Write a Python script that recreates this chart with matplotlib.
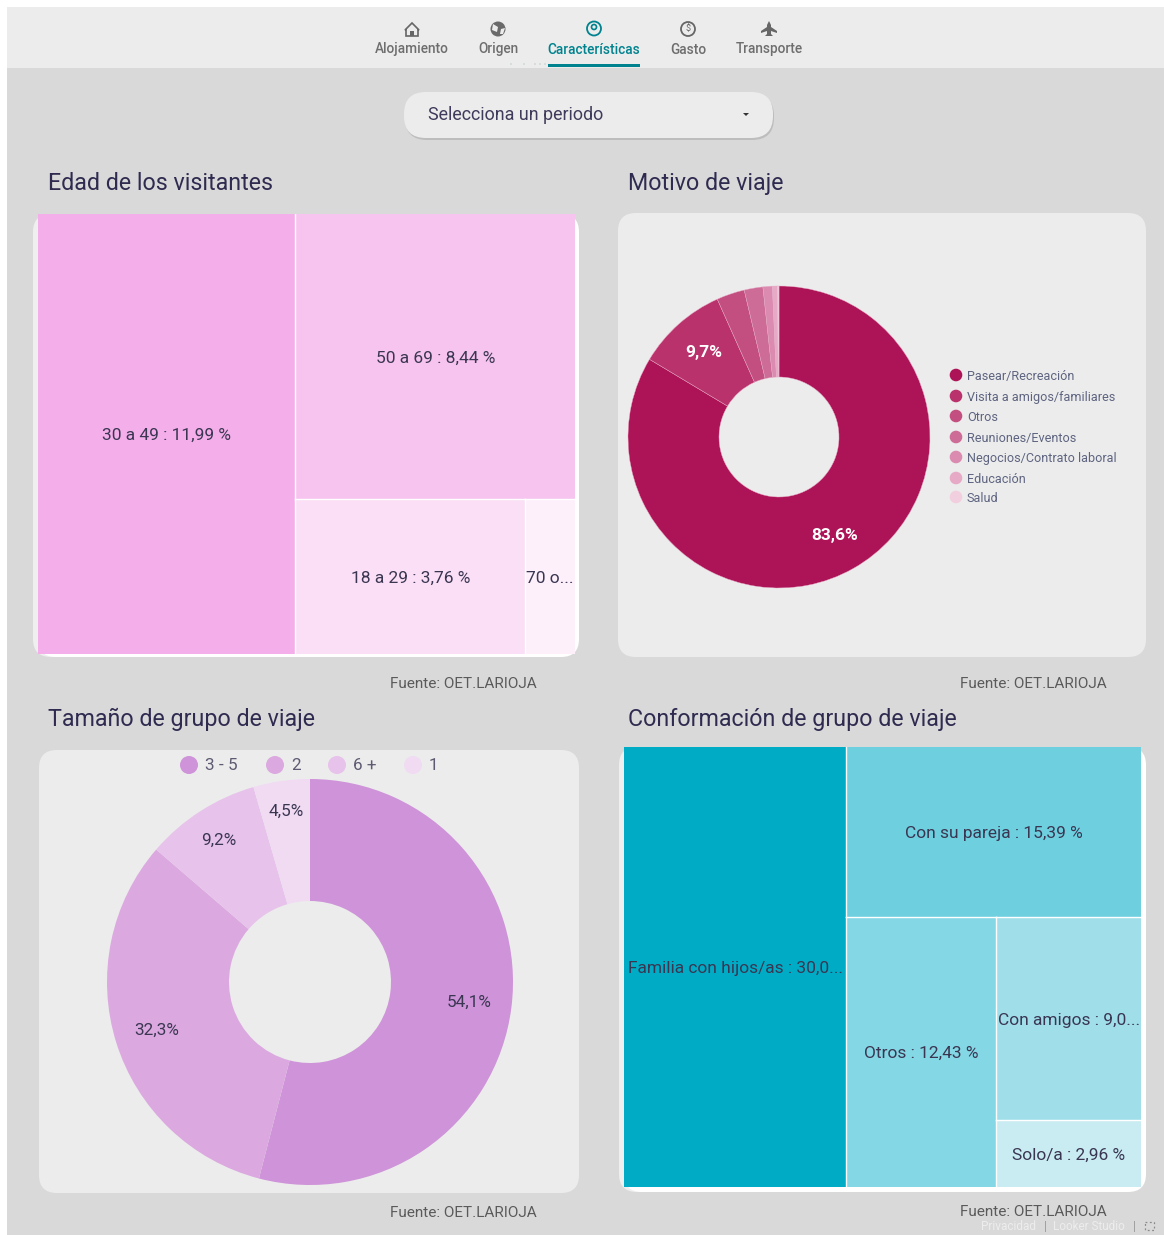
import math

import matplotlib
matplotlib.use("Agg")
import matplotlib.pyplot as plt
from matplotlib.patches import Circle, FancyBboxPatch, Polygon, Rectangle

plt.rcParams['font.family'] = ['Roboto', 'DejaVu Sans']

W, H = 1164, 1235

# data
tabs = ['Alojamiento', 'Origen', 'Características', 'Gasto', 'Transporte']

edad_labels = ['30 a 49 : 11,99 %', '50 a 69 : 8,44 %', '18 a 29 : 3,76 %', '70 o...']
edad_values = [11.99, 8.44, 3.76, 0.82]
edad_colors = ['#F4AEEA', '#F7C3EF', '#FADFF6', '#FDF0FB']

motivo_names = ['Pasear/Recreación', 'Visita a amigos/familiares', 'Otros', 'Reuniones/Eventos',
                'Negocios/Contrato laboral', 'Educación', 'Salud']
motivo_values = [83.6, 9.7, 3.0, 2.0, 1.0, 0.5, 0.2]
motivo_colors = ['#AD1457', '#B9326B', '#C34F80', '#CD6C96', '#DA8BAF', '#E6AAC6', '#F2CFDF']
motivo_text = ['83,6%', '9,7%', '', '', '', '', '']

grupo_names = ['3 - 5', '2', '6 +', '1']
grupo_values = [54.1, 32.3, 9.2, 4.5]
grupo_colors = ['#CE93D8', '#DBA9E0', '#E7C2EB', '#F0DBF3']
grupo_text = ['54,1%', '32,3%', '9,2%', '4,5%']

conf_labels = ['Familia con hijos/as : 30,0...', 'Con su pareja : 15,39 %', 'Otros : 12,43 %',
               'Con amigos : 9,0...', 'Solo/a : 2,96 %']
conf_values = [30.0, 15.39, 12.43, 9.0, 2.96]
conf_colors = ['#00ACC5', '#6ECFDF', '#84D7E4', '#A0DFEA', '#C9ECF2']

TITLE = '#2F2B50'
LABEL = '#3A3652'
GREY = '#6E6E6E'
TEAL = '#00838F'
CARD = '#ECECEC'


def sub_axes(x0, y0, x1, y1):
    # pixel box (y down) to a figure axes
    a = fig.add_axes([x0 / W, 1 - y1 / H, (x1 - x0) / W, (y1 - y0) / H])
    a.axis('off')
    return a


def card(x0, y0, x1, y1, color=CARD, r=18):
    bg.add_patch(FancyBboxPatch((x0 + r, y0 + r), x1 - x0 - 2 * r, y1 - y0 - 2 * r,
                                boxstyle=f'round,pad={r},rounding_size={r}',
                                fc=color, ec='none'))


def treemap(box, values, colors, labels, size=12.5):
    ax = sub_axes(*box)
    ax.set_xlim(0, 1)
    ax.set_ylim(1, 0)
    x, y, w, h = 0.0, 0.0, 1.0, 1.0
    rest = sum(values)
    for i, v in enumerate(values):
        frac = v / rest if i < len(values) - 1 else 1.0
        if i % 2 == 0:
            rw, rh = w * frac, h
        else:
            rw, rh = w, h * frac
        ax.bar(x, rh, rw, bottom=y, align='edge', color=colors[i], edgecolor='none')
        # thin white seam on the inner edges only
        if x > 0:
            ax.axvline(x, ymin=1 - (y + rh), ymax=1 - y, color='white', lw=1)
        if y > 0:
            ax.plot([x, x + rw], [y, y], color='white', lw=1)
        ax.text(x + rw / 2, y + rh / 2, labels[i], ha='center', va='center_baseline',
                fontsize=size, color=LABEL)
        if i % 2 == 0:
            x, w = x + rw, w - rw
        else:
            y, h = y + rh, h - rh
        rest -= v
    ax.set_xlim(0, 1)
    ax.set_ylim(1, 0)


def donut(cx, cy, R, r, values, colors, texts, tcolor, dists, size, weight, edge, lw):
    ax = sub_axes(cx - R, cy - R, cx + R, cy + R)
    ax.pie(values, colors=colors, startangle=90, counterclock=False, radius=1,
           wedgeprops=dict(width=1 - r / R, edgecolor=edge, linewidth=lw))
    ax.set_xlim(-1, 1)
    ax.set_ylim(-1, 1)
    ang = 90.0
    total = sum(values)
    for v, t, dist in zip(values, texts, dists):
        d = v / total * 360
        m = math.radians(ang - d / 2)
        ang -= d
        if t:
            ax.text(dist * math.cos(m), dist * math.sin(m), t, ha='center', va='center',
                    fontsize=size, color=tcolor, fontweight=weight)


fig = plt.figure(figsize=(W / 100, H / 100), dpi=100, facecolor='white')
bg = fig.add_axes([0, 0, 1, 1])
bg.set_xlim(0, W)
bg.set_ylim(H, 0)
bg.axis('off')

# page and top bar
bg.add_patch(Rectangle((7, 7), W - 7, H - 7, fc='#D9D9D9', ec='none'))
bg.add_patch(Rectangle((7, 7), W - 7, 61, fc=CARD, ec='none'))

tab_x = [412, 498, 594, 688, 769]
for name, tx in zip(tabs, tab_x):
    col = TEAL if name == 'Características' else GREY
    bg.text(tx, 53.5, name, ha='center', va='baseline', fontsize=9.8, color=col, fontweight='medium')
bg.add_patch(Rectangle((548, 64), 92, 3, fc=TEAL, ec='none'))
for dx in [511, 524, 535, 540, 545]:
    bg.add_patch(Circle((dx, 64), 0.6, fc='#9FB8BC', ec='none'))

# tab icons
bg.add_patch(Polygon([(405, 30), (412, 23), (419, 30), (418, 30), (418, 36), (406, 36), (406, 30)],
                     fc='none', ec='#666666', lw=1.2))
bg.add_patch(Rectangle((410, 31), 4, 5, fc='#666666', ec='none'))
bg.add_patch(Circle((498, 29), 7.5, fc='#6A6A6A', ec='none'))
bg.add_patch(Polygon([(493, 24), (498, 27), (497, 32), (492, 30)], fc=CARD, ec='none'))
bg.add_patch(Polygon([(501, 29), (505, 28), (503, 34), (500, 34)], fc=CARD, ec='none'))
bg.add_patch(Circle((594, 28.5), 7, fc='none', ec=TEAL, lw=1.3))
bg.add_patch(Circle((594, 27), 2.5, fc='none', ec=TEAL, lw=1.2))
bg.add_patch(Circle((688, 29), 7, fc='none', ec='#666666', lw=1.3))
bg.text(688, 29, '$', ha='center', va='center', fontsize=6.5, color='#666666')
bg.add_patch(Polygon([(769, 21), (771, 25), (771, 27), (777, 31), (777, 33), (771, 31), (771, 34),
                      (773, 36), (765, 36), (767, 34), (767, 31), (761, 33), (761, 31), (767, 27), (767, 25)],
                     fc='#666666', ec='none'))

# period selector
card(405, 94, 774, 140, color='#BDBDBD', r=22)
card(404, 92, 773, 138, color=CARD, r=22)
bg.text(428, 120, 'Selecciona un periodo', ha='left', va='baseline', fontsize=12.9, color='#3F3B5C')
bg.add_patch(Polygon([(743, 113), (749, 113), (746, 116)], fc='#333333', ec='none'))

# titles and sources
for tx, ty, t in [(48, 190, 'Edad de los visitantes'), (628, 190, 'Motivo de viaje'),
                  (48, 726, 'Tamaño de grupo de viaje'), (628, 726, 'Conformación de grupo de viaje')]:
    bg.text(tx, ty, t, ha='left', va='baseline', fontsize=16.75, color=TITLE)
for tx, ty in [(463, 688), (1033, 688), (463, 1217), (1033, 1216)]:
    bg.text(tx, ty, 'Fuente: OET.LARIOJA', ha='center', va='baseline', fontsize=11, color='#5A5A5A')

# cards: treemap cards sit right under the treemap, light on the left and white elsewhere
card(33, 214, 100, 657, color='#EFEFEF')
card(38, 214, 579, 657, color='white')
card(618, 213, 1146, 657)
card(39, 750, 579, 1193)
card(619, 747, 680, 1192, color='#EFEFEF')
card(624, 747, 1146, 1192, color='white')

treemap((38, 214, 575, 654), edad_values, edad_colors, edad_labels)
treemap((624, 747, 1141, 1187), conf_values, conf_colors, conf_labels)

donut(779, 437, 151, 60, motivo_values, motivo_colors, motivo_text, 'white',
      [0.75] * 7, 12.5, 'bold', '#E9A9C6', 0.3)
donut(310, 982, 203, 81, grupo_values, grupo_colors, grupo_text, LABEL,
      [0.79, 0.79, 0.83, 0.85], 12.3, 'normal', 'none', 0)

# legends
leg_y = [375, 396, 416, 437, 457, 478, 497]
for name, col, ly in zip(motivo_names, motivo_colors, leg_y):
    bg.add_patch(Circle((956, ly), 6.3, fc=col, ec='none'))
    bg.text(967, ly, name, ha='left', va='center_baseline', fontsize=9.1, color='#5E6480')

leg_x = [189, 275, 337, 413]
for name, col, lx in zip(grupo_names, grupo_colors, leg_x):
    bg.add_patch(Circle((lx, 765), 9, fc=col, ec='none'))
    bg.text(lx + 16, 765, name, ha='left', va='center', fontsize=12.3, color='#5E5A72')

# footer
bg.text(1008, 1226, 'Privacidad', ha='center', va='center', fontsize=8.5, color='#EDEDED')
bg.text(1045, 1226, '|', ha='center', va='center', fontsize=9, color='#9A9A9A')
bg.text(1089, 1226, 'Looker Studio', ha='center', va='center', fontsize=8.5, color='#EDEDED')
bg.text(1134, 1226, '|', ha='center', va='center', fontsize=9, color='#9A9A9A')
bg.add_patch(Rectangle((1145, 1222), 9, 8, fc='none', ec='#8A8A8A', lw=0.9, ls=(0, (1.5, 2))))

fig.savefig('out.png', dpi=100, facecolor='white')
